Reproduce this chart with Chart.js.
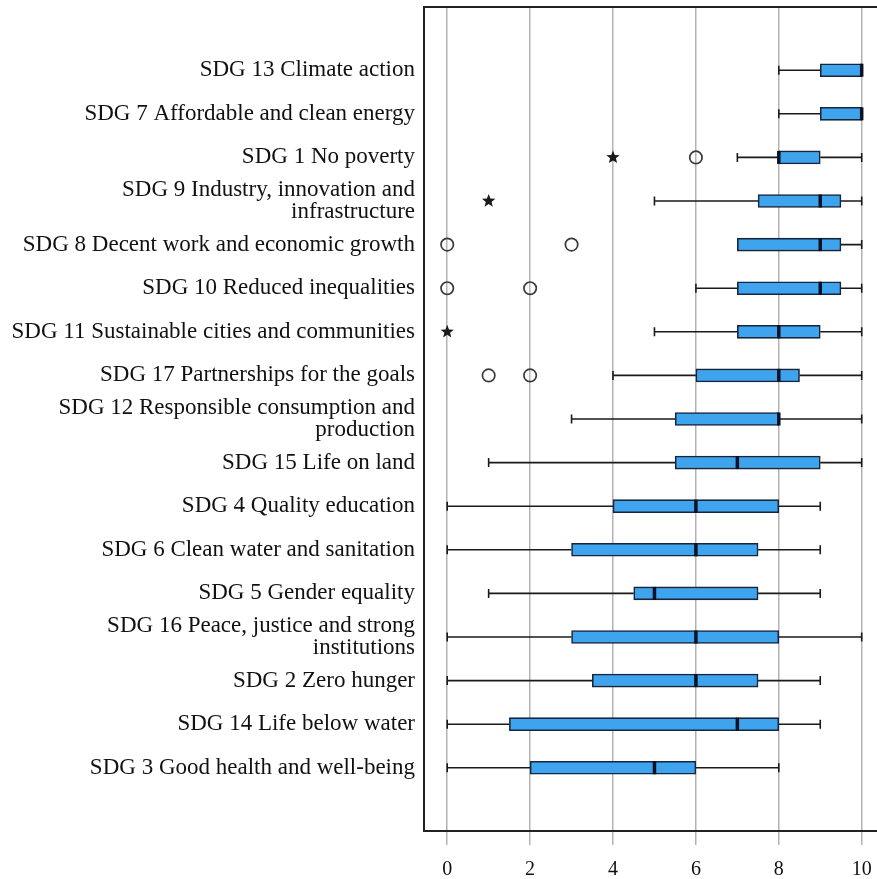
<!DOCTYPE html>
<html>
<head>
<meta charset="utf-8">
<script src="https://cdn.jsdelivr.net/npm/chart.js@4/dist/chart.umd.min.js"></script>
<style>
  html, body { margin: 0; padding: 0; overflow: hidden; background: #fff; }
  canvas { display: block; }
</style>
</head>
<body>
<canvas id="boxChart" width="900" height="879"></canvas>
<script>
'use strict';
// categories, top to bottom
var goalLabels = [
  'SDG 13 Climate action',
  'SDG 7 Affordable and clean energy',
  'SDG 1 No poverty',
  ['SDG 9 Industry, innovation and', 'infrastructure'],
  'SDG 8 Decent work and economic growth',
  'SDG 10 Reduced inequalities',
  'SDG 11 Sustainable cities and communities',
  'SDG 17 Partnerships for the goals',
  ['SDG 12 Responsible consumption and', 'production'],
  'SDG 15 Life on land',
  'SDG 4 Quality education',
  'SDG 6 Clean water and sanitation',
  'SDG 5 Gender equality',
  ['SDG 16 Peace, justice and strong', 'institutions'],
  'SDG 2 Zero hunger',
  'SDG 14 Life below water',
  'SDG 3 Good health and well-being'
];
var whiskerMin = [8, 8, 7, 5, 7, 6, 5, 4, 3, 1, 0, 0, 1, 0, 0, 0, 0];
var quartile1 = [9, 9, 8, 7.5, 7, 7, 7, 6, 5.5, 5.5, 4, 3, 4.5, 3, 3.5, 1.5, 2];
var medians = [10, 10, 8, 9, 9, 9, 8, 8, 8, 7, 6, 6, 5, 6, 6, 7, 5];
var quartile3 = [10, 10, 9, 9.5, 9.5, 9.5, 9, 8.5, 8, 9, 8, 7.5, 7.5, 8, 7.5, 8, 6];
var whiskerMax = [10, 10, 10, 10, 10, 10, 10, 10, 10, 10, 9, 9, 9, 10, 9, 9, 8];
// outliers: row index + value
var circleRows = [2, 4, 4, 5, 5, 7, 7];
var circleValues = [6, 0, 3, 0, 2, 1, 2];
var starRows = [2, 3, 6];
var starValues = [4, 1, 0];
var xTicks = [0, 2, 4, 6, 8, 10];

var boxData = [];
for (var i = 0; i < goalLabels.length; i++) {
  boxData.push({ x: [quartile1[i], quartile3[i]], y: i });
}

function drawStar(ctx, cx, cy, outer, inner) {
  ctx.beginPath();
  for (var k = 0; k < 10; k++) {
    var r = k % 2 === 0 ? outer : inner;
    var a = -Math.PI / 2 + k * Math.PI / 5;
    var px = cx + r * Math.cos(a);
    var py = cy + r * Math.sin(a);
    if (k === 0) ctx.moveTo(px, py); else ctx.lineTo(px, py);
  }
  ctx.closePath();
  ctx.fill();
}

var boxExtras = {
  id: 'boxExtras',
  beforeDatasetsDraw: function(chart) {
    var ctx = chart.ctx, xs = chart.scales.x, ys = chart.scales.y;
    ctx.save();
    ctx.strokeStyle = '#1a1a1a';
    ctx.lineWidth = 1.6;
    for (var i = 0; i < goalLabels.length; i++) {
      var py = ys.getPixelForValue(i);
      var pMin = xs.getPixelForValue(whiskerMin[i]);
      var pQ1 = xs.getPixelForValue(quartile1[i]);
      var pQ3 = xs.getPixelForValue(quartile3[i]);
      var pMax = xs.getPixelForValue(whiskerMax[i]);
      ctx.beginPath();
      if (whiskerMin[i] < quartile1[i]) {
        ctx.moveTo(pMin, py); ctx.lineTo(pQ1, py);
        ctx.moveTo(pMin, py - 4.5); ctx.lineTo(pMin, py + 4.5);
      }
      if (whiskerMax[i] > quartile3[i]) {
        ctx.moveTo(pQ3, py); ctx.lineTo(pMax, py);
        ctx.moveTo(pMax, py - 4.5); ctx.lineTo(pMax, py + 4.5);
      }
      ctx.stroke();
    }
    ctx.restore();
  },
  afterDatasetsDraw: function(chart) {
    var ctx = chart.ctx, xs = chart.scales.x, ys = chart.scales.y;
    ctx.save();
    // medians
    ctx.strokeStyle = '#081226';
    ctx.lineWidth = 3.5;
    for (var i = 0; i < medians.length; i++) {
      var py = ys.getPixelForValue(i);
      var pm = xs.getPixelForValue(medians[i]);
      ctx.beginPath();
      ctx.moveTo(pm, py - 6.5);
      ctx.lineTo(pm, py + 6.5);
      ctx.stroke();
    }
    // outliers
    ctx.strokeStyle = '#3a3a3a';
    ctx.lineWidth = 1.7;
    for (var c = 0; c < circleRows.length; c++) {
      ctx.beginPath();
      ctx.arc(xs.getPixelForValue(circleValues[c]), ys.getPixelForValue(circleRows[c]), 6.2, 0, Math.PI * 2);
      ctx.stroke();
    }
    ctx.fillStyle = '#1a1a1a';
    for (var s = 0; s < starRows.length; s++) {
      drawStar(ctx, xs.getPixelForValue(starValues[s]), ys.getPixelForValue(starRows[s]), 7, 3);
    }
    ctx.restore();
  },
  afterDraw: function(chart) {
    var ctx = chart.ctx, a = chart.chartArea;
    ctx.save();
    ctx.strokeStyle = '#222';
    ctx.lineWidth = 2;
    ctx.strokeRect(a.left, a.top, a.right - a.left, a.bottom - a.top);
    ctx.restore();
  }
};

var ctx = document.getElementById('boxChart').getContext('2d');
var boxChart = new Chart(ctx, {
  type: 'bar',
  data: {
    datasets: [{
      label: 'Score',
      data: boxData,
      backgroundColor: '#3fa4ee',
      borderColor: '#18253a',
      borderWidth: 1.6,
      borderSkipped: false,
      barThickness: 13
    }]
  },
  options: {
    indexAxis: 'y',
    responsive: false,
    animation: false,
    layout: { padding: { top: 7, right: 1, left: 0, bottom: 0 } },
    plugins: {
      legend: { display: false },
      tooltip: { enabled: false }
    },
    scales: {
      x: {
        type: 'linear',
        min: -0.56,
        max: 10.9,
        afterBuildTicks: function(scale) {
          scale.ticks = xTicks.map(function(v) { return { value: v }; });
        },
        afterFit: function(scale) {
          scale.height = 48;
          scale.paddingLeft = 0;
          scale.paddingRight = 0;
        },
        grid: { color: '#b3b3b3', lineWidth: 1.5, tickLength: 14, drawTicks: true },
        border: { display: false },
        ticks: {
          color: '#111',
          padding: 13,
          maxRotation: 0,
          font: { family: '"Liberation Serif", "Times New Roman", serif', size: 20 }
        }
      },
      y: {
        type: 'linear',
        reverse: true,
        offset: false,
        min: -1.45,
        max: 17.45,
        afterBuildTicks: function(scale) {
          scale.ticks = goalLabels.map(function(l, i) { return { value: i }; });
        },
        afterFit: function(scale) {
          scale.width = 424;
          scale.paddingTop = 0;
          scale.paddingBottom = 0;
        },
        grid: { display: false, drawTicks: false, offset: false },
        border: { display: false },
        ticks: {
          color: '#111',
          padding: 9,
          autoSkip: false,
          font: { family: '"Liberation Serif", "Times New Roman", serif', size: 23, lineHeight: 0.95 },
          callback: function(value) { return goalLabels[value]; }
        }
      }
    }
  },
  plugins: [boxExtras]
});
</script>
</body>
</html>
